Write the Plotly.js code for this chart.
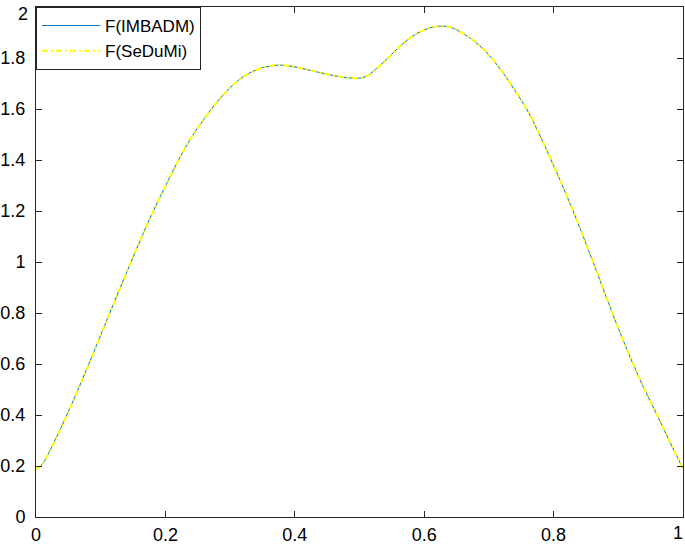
<!DOCTYPE html>
<html>
<head>
<meta charset="utf-8">
<script src="https://cdn.plot.ly/plotly-3.0.1.min.js"></script>
<style>html,body{margin:0;padding:0;background:#fff;}#chart{width:685px;height:546px;}</style>
</head>
<body>
<div id="chart"></div>
<script>
const xs = [0, 0.01, 0.02, 0.04, 0.06, 0.08, 0.10, 0.12, 0.14, 0.16, 0.18, 0.20, 0.22, 0.24, 0.26, 0.28, 0.30, 0.32, 0.34, 0.36, 0.38, 0.40, 0.42, 0.44, 0.46, 0.48, 0.50, 0.51, 0.52, 0.54, 0.56, 0.58, 0.60, 0.62, 0.64, 0.66, 0.68, 0.70, 0.72, 0.74, 0.76, 0.78, 0.80, 0.82, 0.84, 0.86, 0.88, 0.90, 0.92, 0.94, 0.96, 0.98, 1.0];
const fImbadm = [0.187, 0.208, 0.253, 0.358, 0.470, 0.590, 0.713, 0.837, 0.959, 1.079, 1.193, 1.298, 1.398, 1.488, 1.562, 1.628, 1.684, 1.726, 1.753, 1.768, 1.772, 1.765, 1.754, 1.742, 1.731, 1.723, 1.721, 1.728, 1.745, 1.790, 1.840, 1.882, 1.910, 1.924, 1.921, 1.896, 1.861, 1.812, 1.748, 1.674, 1.592, 1.490, 1.378, 1.262, 1.138, 1.006, 0.872, 0.740, 0.617, 0.503, 0.400, 0.292, 0.191];
const fSedumi = fImbadm.slice();
const xTicks = [0, 0.2, 0.4, 0.6, 0.8, 1];
const xTickText = ['0', '0.2', '0.4', '0.6', '0.8', '1'];
const yTicks = [0, 0.2, 0.4, 0.6, 0.8, 1, 1.2, 1.4, 1.6, 1.8, 2];
const yTickText = ['0', '0.2', '0.4', '0.6', '0.8', '1', '1.2', '1.4', '1.6', '1.8', '2'];

const traces = [
  {x: xs, y: fImbadm, name: 'F(IMBADM)', mode: 'lines', line: {color: '#0072BD', width: 1, shape: 'spline', smoothing: 1}},
  {x: xs, y: fSedumi, name: 'F(SeDuMi)', mode: 'lines', line: {color: '#FFFF00', width: 2, dash: '6px,3px,2px,3px', shape: 'spline', smoothing: 1}}
];
const fnt = 'Liberation Sans, Arial, Helvetica, sans-serif';
const axFont = {family: fnt, size: 18, color: '#000'};

// edge tick labels drawn as annotations so they stay inside the page
const lastX = xTicks.length - 1, lastY = yTicks.length - 1;
const xText = xTickText.map((t, i) => i === lastX ? '' : t);
const yText = yTickText.map((t, i) => i === lastY ? '' : t);
const annotations = [
  {xref: 'x', yref: 'paper', x: xTicks[lastX], y: 0, text: xTickText[lastX], showarrow: false,
   xanchor: 'right', yanchor: 'top', xshift: 1, yshift: -5, borderpad: 0, font: axFont},
  {xref: 'paper', yref: 'y', x: 0, y: yTicks[lastY], text: yTickText[lastY], showarrow: false,
   xanchor: 'right', yanchor: 'top', xshift: -7, yshift: 4, borderpad: 0, font: axFont}
];

const layout = {
  width: 685, height: 546,
  margin: {l: 36, r: 2, t: 7, b: 29, pad: 0},
  paper_bgcolor: '#fff', plot_bgcolor: '#fff',
  showlegend: true,
  annotations: annotations,
  legend: {x: 0, y: 1, xanchor: 'left', yanchor: 'top', bgcolor: '#fff', bordercolor: '#262626', borderwidth: 1,
           font: {family: fnt, size: 17, color: '#000'}, itemwidth: 58, tracegroupgap: 0},
  xaxis: {range: [0, 1], tickvals: xTicks, ticktext: xText, ticks: 'inside', ticklen: 6, tickcolor: '#262626',
          showline: true, linecolor: '#262626', linewidth: 1, mirror: 'ticks', showgrid: false, zeroline: false,
          tickfont: axFont, ticklabeloverflow: 'allow', ticklabelstandoff: 1, fixedrange: true},
  yaxis: {range: [0, 2], tickvals: yTicks, ticktext: yText, ticks: 'inside', ticklen: 6, tickcolor: '#262626',
          showline: true, linecolor: '#262626', linewidth: 1, mirror: 'ticks', showgrid: false, zeroline: false,
          tickfont: axFont, ticklabeloverflow: 'allow', ticklabelstandoff: 6, fixedrange: true}
};
Plotly.newPlot('chart', traces, layout, {displayModeBar: false, staticPlot: true});
</script>
</body>
</html>
